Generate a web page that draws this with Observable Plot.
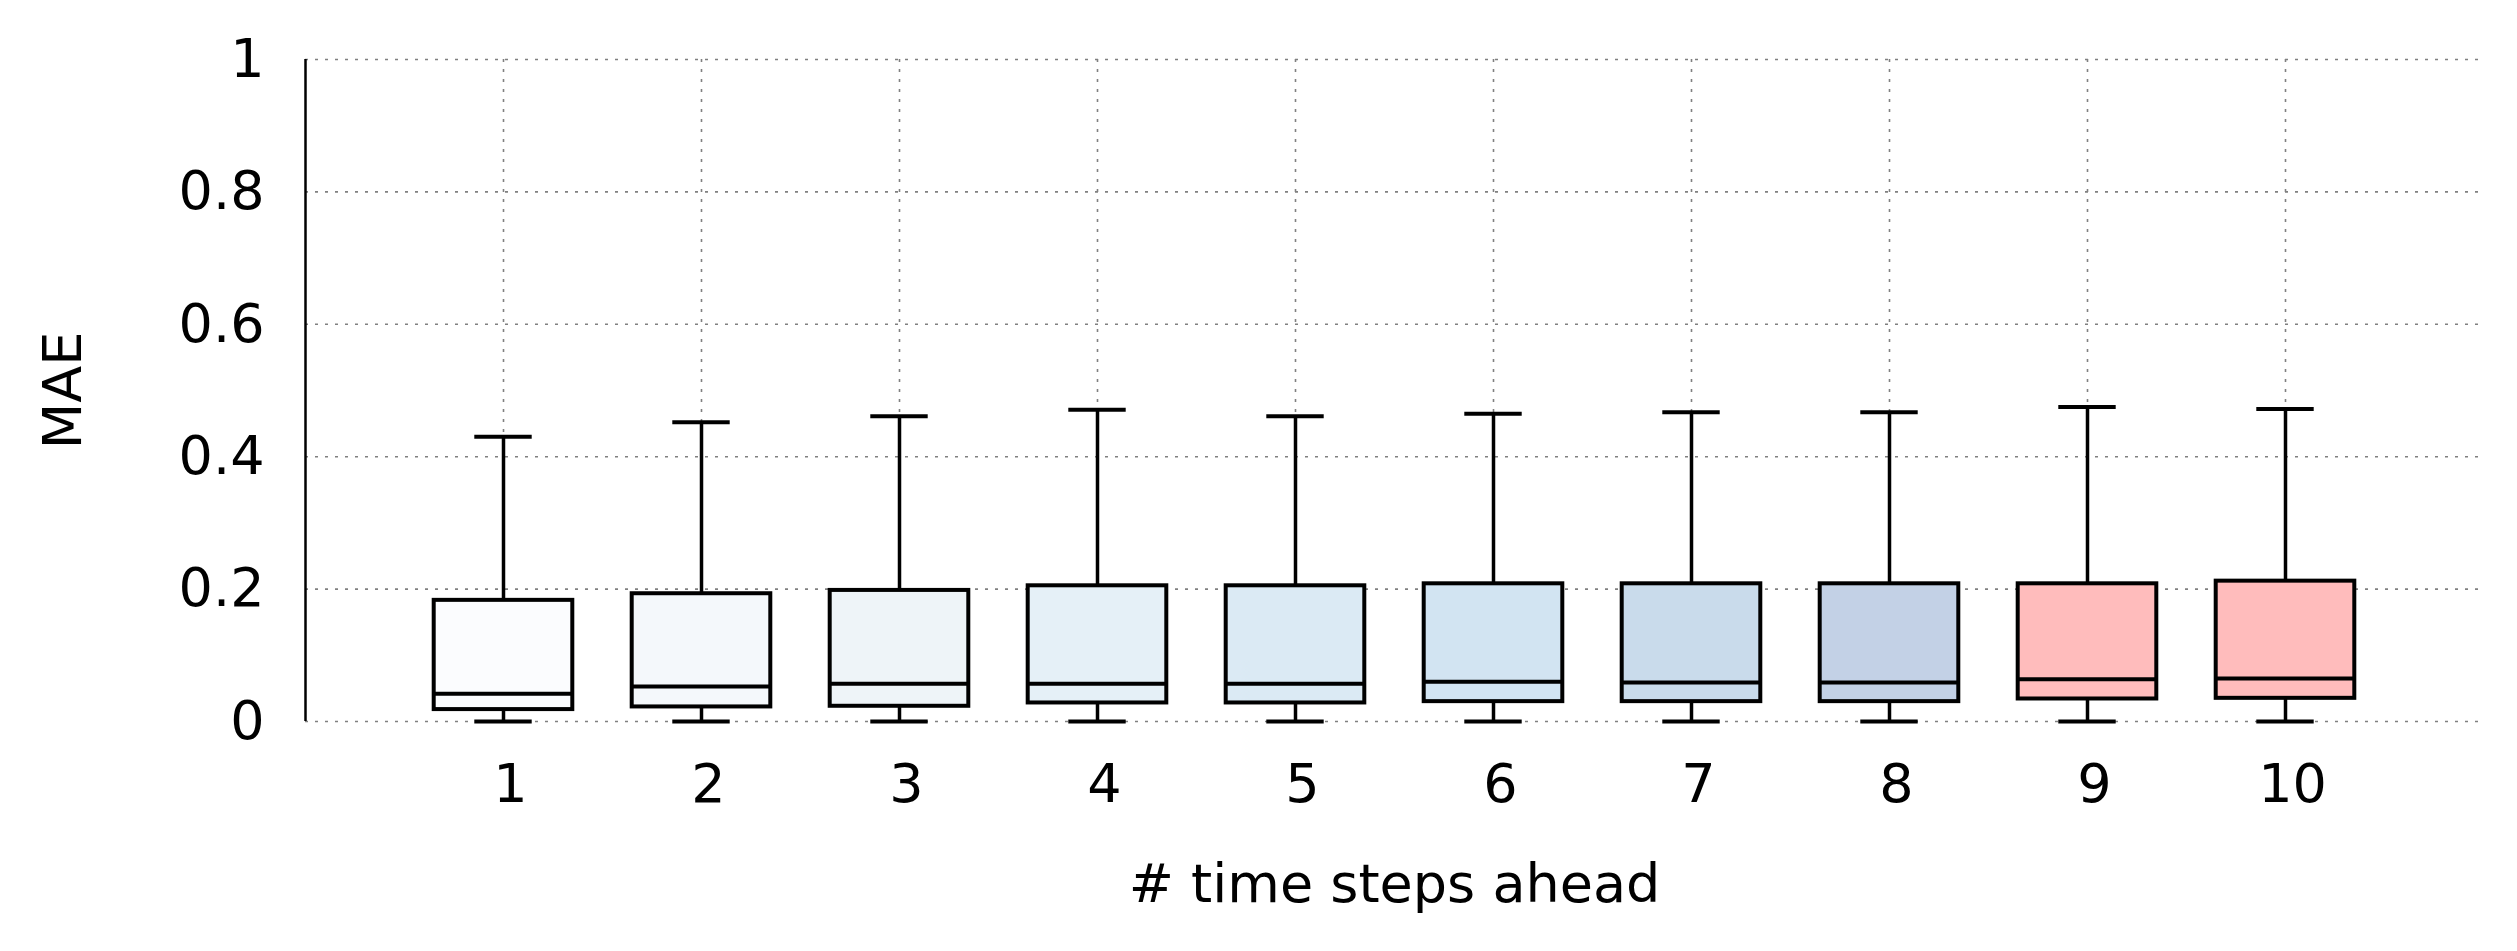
<!DOCTYPE html>
<html>
<head>
<meta charset="utf-8">
<script src="https://cdn.jsdelivr.net/npm/d3@7"></script>
<script src="https://cdn.jsdelivr.net/npm/@observablehq/plot@0.6"></script>
<style>
  html, body { margin: 0; padding: 0; background: #fff; overflow: hidden; }
  #chart svg { display: block; }
</style>
</head>
<body>
<div id="chart"></div>
<script>
// Categories: number of time steps ahead
const steps = [1, 2, 3, 4, 5, 6, 7, 8, 9, 10];
// Box-plot statistics (MAE)
const lowWhisker  = [0, 0, 0, 0, 0, 0, 0, 0, 0, 0];
const q1          = [0.018, 0.022, 0.023, 0.028, 0.028, 0.030, 0.030, 0.030, 0.034, 0.035];
const median      = [0.042, 0.053, 0.057, 0.057, 0.057, 0.060, 0.059, 0.059, 0.064, 0.065];
const q3          = [0.183, 0.193, 0.198, 0.205, 0.205, 0.208, 0.208, 0.208, 0.208, 0.212];
const highWhisker = [0.430, 0.452, 0.461, 0.471, 0.461, 0.465, 0.467, 0.467, 0.475, 0.472];
const boxColors   = ["#fbfcfe", "#f4f8fb", "#eef4f8", "#e5f0f7", "#dbeaf4",
                     "#d2e4f2", "#c9dbeb", "#c3d1e6", "#ffbcbc", "#ffbcbc"];
// Axis ticks
const yTicks = [0, 0.2, 0.4, 0.6, 0.8, 1];
const yTickLabels = ["0", "0.2", "0.4", "0.6", "0.8", "1"];
const xLabel = "# time steps ahead";
const yLabel = "MAE";

const data = steps.map((s, i) => ({
  step: s, lo: lowWhisker[i], q1: q1[i], med: median[i], q3: q3[i], hi: highWhisker[i], color: boxColors[i]
}));

const halfBox = 0.35;
const halfCap = 0.145;
const grid = {stroke: "#808080", strokeOpacity: 1, strokeWidth: 1.6, strokeDasharray: "3,7"};

const chart = Plot.plot({
  width: 2517,
  height: 951,
  marginLeft: 305,
  marginRight: 34,
  marginTop: 59,
  marginBottom: 230,
  style: {fontFamily: "DejaVu Sans", fontSize: "54px", color: "#000", background: "#fff"},
  x: {type: "linear", domain: [0, 11]},
  y: {domain: [0, 1]},
  color: {type: "identity"},
  marks: [
    Plot.gridY(yTicks, grid),
    Plot.gridX(steps, grid),
    Plot.ruleX([0], {y1: 0, y2: 1, stroke: "#000", strokeWidth: 2.5}),
    Plot.axisY(yTicks, {
      tickSize: 0, tickPadding: 41,
      tickFormat: (d) => yTickLabels[yTicks.indexOf(d)],
      label: yLabel, labelAnchor: "center", labelArrow: "none", labelOffset: 263
    }),
    Plot.axisX(steps, {
      tickSize: 0, tickPadding: 42, dx: 7,
      tickFormat: (d) => String(d),
      label: null
    }),
    Plot.axisX(steps, {
      tickSize: 0, tickFormat: () => "",
      label: xLabel, labelAnchor: "center", labelArrow: "none", labelOffset: 180
    }),
    // whiskers
    Plot.ruleX(data, {x: "step", y1: "q3", y2: "hi", stroke: "#000", strokeWidth: 3.5}),
    Plot.ruleX(data, {x: "step", y1: "lo", y2: "q1", stroke: "#000", strokeWidth: 3.5}),
    // caps
    Plot.ruleY(data, {y: "hi", x1: (d) => d.step - halfCap, x2: (d) => d.step + halfCap, stroke: "#000", strokeWidth: 4}),
    Plot.ruleY(data, {y: "lo", x1: (d) => d.step - halfCap, x2: (d) => d.step + halfCap, stroke: "#000", strokeWidth: 4}),
    // boxes
    Plot.rectY(data, {
      x1: (d) => d.step - halfBox, x2: (d) => d.step + halfBox,
      y1: "q1", y2: "q3", fill: "color", stroke: "#000", strokeWidth: 4
    }),
    // medians
    Plot.ruleY(data, {y: "med", x1: (d) => d.step - halfBox, x2: (d) => d.step + halfBox, stroke: "#000", strokeWidth: 4})
  ]
});

document.getElementById("chart").appendChild(chart);
</script>
</body>
</html>
